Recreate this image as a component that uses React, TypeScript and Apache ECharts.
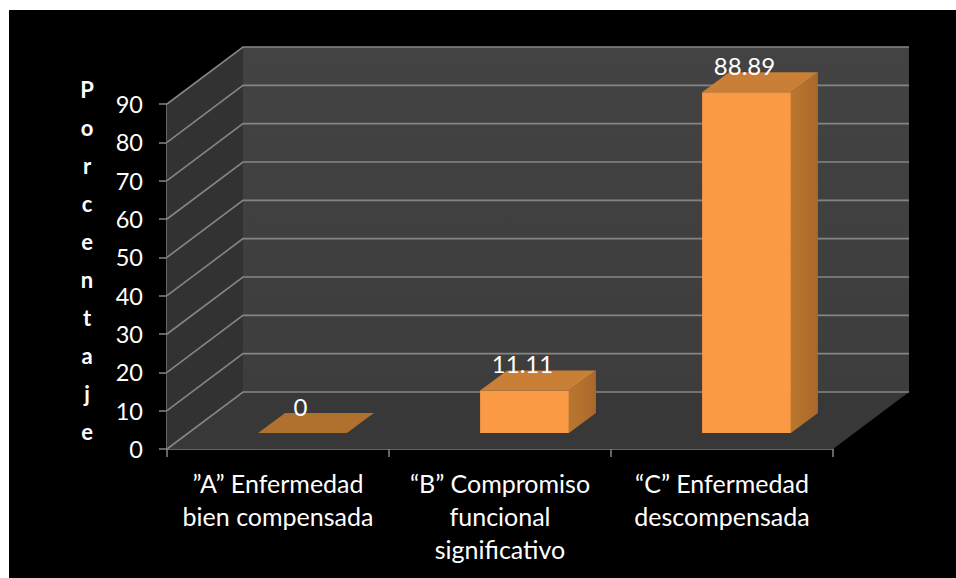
import React, { useEffect, useRef } from "react";
import * as echarts from "echarts";

const categories = ["”A” Enfermedad\nbien compensada", "“B” Compromiso\nfuncional\nsignificativo", "“C” Enfermedad\ndescompensada"];
const values = [0, 11.11, 88.89];
const valueLabels = ["0", "11.11", "88.89"];
const yTicks = [0, 10, 20, 30, 40, 50, 60, 70, 80, 90];
const axisTitle = "Porcentaje";

const FONT = "Lato, Carlito, 'Open Sans', sans-serif";
const DEPTH_X = 76;
const DEPTH_Y = 57;
const GRID_COLOR = "#858585";

function renderWalls(params: any) {
  const c = params.coordSys;
  const l = c.x, r = c.x + c.width, t = c.y, b = c.y + c.height;
  return {
    type: "group",
    children: [
      {
        type: "polygon",
        shape: { points: [[l, b], [l, t], [l + DEPTH_X, t - DEPTH_Y], [l + DEPTH_X, b - DEPTH_Y]] },
        style: { fill: "#323232" },
      },
      {
        type: "rect",
        shape: { x: l + DEPTH_X, y: t - DEPTH_Y, width: r - l, height: c.height },
        style: {
          fill: new echarts.graphic.LinearGradient(0, 0, 0, 1, [
            { offset: 0, color: "#434343" },
            { offset: 1, color: "#3d3d3d" },
          ]),
        },
      },
      {
        type: "polygon",
        shape: { points: [[l, b], [r, b], [r + DEPTH_X, b - DEPTH_Y], [l + DEPTH_X, b - DEPTH_Y]] },
        style: { fill: "#383838" },
      },
    ],
  };
}

function renderGridLine(params: any, api: any) {
  const c = params.coordSys;
  const y = api.coord([0, api.value(1)])[1];
  const l = c.x, r = c.x + c.width;
  return {
    type: "polyline",
    shape: { points: [[l, y], [l + DEPTH_X, y - DEPTH_Y], [r + DEPTH_X, y - DEPTH_Y]] },
    style: { stroke: GRID_COLOR, lineWidth: 1.6, fill: "none" },
  };
}

function renderBar(params: any, api: any) {
  const idx = api.value(0);
  const val = api.value(1);
  const base = api.coord([idx, 0]);
  const top = api.coord([idx, val]);
  const w = api.size([1, 0])[0] * 0.4;
  const ox = 24.5, oy = 16; // bar's front face sits this far into the floor
  const sx = 27, sy = 20; // bar's own depth
  const x0 = base[0] + ox - w / 2;
  const x1 = x0 + w;
  const yb = base[1] - oy;
  const yt = top[1] - oy;
  const children: any[] = [];
  if (val > 0) {
    children.push(
      {
        type: "rect",
        shape: { x: x0, y: yt, width: w, height: yb - yt },
        style: { fill: "#fa9a45" },
      },
      {
        type: "polygon",
        shape: { points: [[x1, yb], [x1, yt], [x1 + sx, yt - sy], [x1 + sx, yb - sy]] },
        style: {
          fill: new echarts.graphic.LinearGradient(0, 0, 1, 0, [
            { offset: 0, color: "#bb7730" },
            { offset: 1, color: "#a9692b" },
          ]),
        },
      }
    );
  }
  children.push({
    type: "polygon",
    shape: { points: [[x0, yt], [x1, yt], [x1 + sx, yt - sy], [x0 + sx, yt - sy]] },
    style: { fill: val > 0 ? "#c97f35" : "#b0702e" },
  });
  children.push({
    type: "text",
    style: {
      text: valueLabels[params.dataIndex],
      x: (x0 + x1) / 2 - 2,
      y: yt - sy - 7,
      fill: "#ffffff",
      font: `24px ${FONT}`,
      align: "center",
      verticalAlign: "middle",
    },
  });
  return { type: "group", children };
}

export default function App() {
  const ref = useRef<HTMLDivElement>(null);
  useEffect(() => {
    const chart = echarts.init(ref.current!, null, { renderer: "svg" });
    const axisColor = "#868686";
    chart.setOption({
      animation: false,
      backgroundColor: "#ffffff",
      graphic: [
        {
          type: "rect",
          z: -10,
          shape: { x: 9, y: 10, width: 947, height: 568 },
          style: { fill: "#000000" },
        },
        {
          type: "text",
          z: 10,
          x: 87,
          y: 260.5,
          style: {
            text: axisTitle.split("").join("\n"),
            fill: "#ffffff",
            font: `bold 22px ${FONT}`,
            lineHeight: 38.1,
            align: "center",
            verticalAlign: "middle",
          },
        },
      ],
      grid: { left: 167, right: 123, top: 104, bottom: 129, containLabel: false },
      xAxis: {
        type: "category",
        data: categories,
        axisLine: { lineStyle: { color: axisColor, width: 1.5 } },
        axisTick: { show: true, length: 8, alignWithLabel: false, lineStyle: { color: axisColor, width: 1.5 } },
        axisLabel: { color: "#ffffff", fontSize: 25, fontFamily: FONT, lineHeight: 33, margin: 17, interval: 0 },
        splitLine: { show: false },
      },
      yAxis: {
        type: "value",
        min: 0,
        max: 90,
        interval: 10,
        axisLine: { show: true, lineStyle: { color: axisColor, width: 1.5 } },
        axisTick: { show: true, length: 8, lineStyle: { color: axisColor, width: 1.5 } },
        axisLabel: { color: "#ffffff", fontSize: 23.5, fontFamily: FONT, margin: 24 },
        splitLine: { show: false },
      },
      series: [
        { type: "custom", z: 1, silent: true, renderItem: renderWalls, data: [[0, 0]], encode: { x: 0, y: 1 } },
        {
          type: "custom",
          z: 2,
          silent: true,
          renderItem: renderGridLine,
          data: yTicks.map((v) => [0, v]),
          encode: { x: 0, y: 1 },
        },
        {
          type: "custom",
          z: 3,
          silent: true,
          renderItem: renderBar,
          data: values.map((v, i) => [i, v]),
          encode: { x: 0, y: 1 },
        },
      ],
    });
    return () => chart.dispose();
  }, []);
  return <div ref={ref} style={{ position: "absolute", left: 0, top: 0, width: 956, height: 578 }} />;
}
